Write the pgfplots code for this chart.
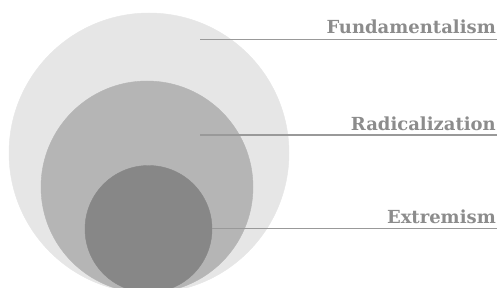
\documentclass[border=0pt]{standalone}
\usepackage{pgfplots}
\pgfplotsset{compat=1.18}
\usepackage{fontspec}
\setmainfont{DejaVu Serif}
\definecolor{c1}{HTML}{E6E6E6}
\definecolor{c2}{HTML}{B5B5B5}
\definecolor{c3}{HTML}{878787}
\definecolor{ln}{HTML}{999999}
\definecolor{tx}{HTML}{8C8C8C}
\begin{document}
\begin{tikzpicture}
\begin{axis}[
  scale only axis, width=500pt, height=288pt,
  xmin=0, xmax=500, ymin=0, ymax=288, y dir=reverse,
  hide axis, clip=true, clip marker paths=true,
]
\addplot[c1, only marks, mark=*, mark size=140pt, mark options={draw=c1, fill=c1}] coordinates {(149,153)};
\addplot[c2, only marks, mark=*, mark size=106pt, mark options={draw=c2, fill=c2}] coordinates {(147,187)};
\addplot[c3, only marks, mark=*, mark size=63.5pt, mark options={draw=c3, fill=c3}] coordinates {(148.5,229)};
\addplot[ln, line width=1.5pt] coordinates {(200,39.3) (497,39.3)};
\addplot[ln, line width=1.5pt] coordinates {(200,135) (497,135)};
\addplot[ln, line width=1.5pt] coordinates {(212,228.3) (497,228.3)};
\node[anchor=base east, text=tx, font=\bfseries\fontsize{18}{20}\selectfont, inner sep=0pt] at (axis cs:496,34) {Fundamentalism};
\node[anchor=base east, text=tx, font=\bfseries\fontsize{18}{20}\selectfont, inner sep=0pt] at (axis cs:496,131) {Radicalization};
\node[anchor=base east, text=tx, font=\bfseries\fontsize{18}{20}\selectfont, inner sep=0pt] at (axis cs:496,224) {Extremism};
\end{axis}
\pgfresetboundingbox
\path (current axis.south west) rectangle (current axis.north east);
\end{tikzpicture}
\end{document}
